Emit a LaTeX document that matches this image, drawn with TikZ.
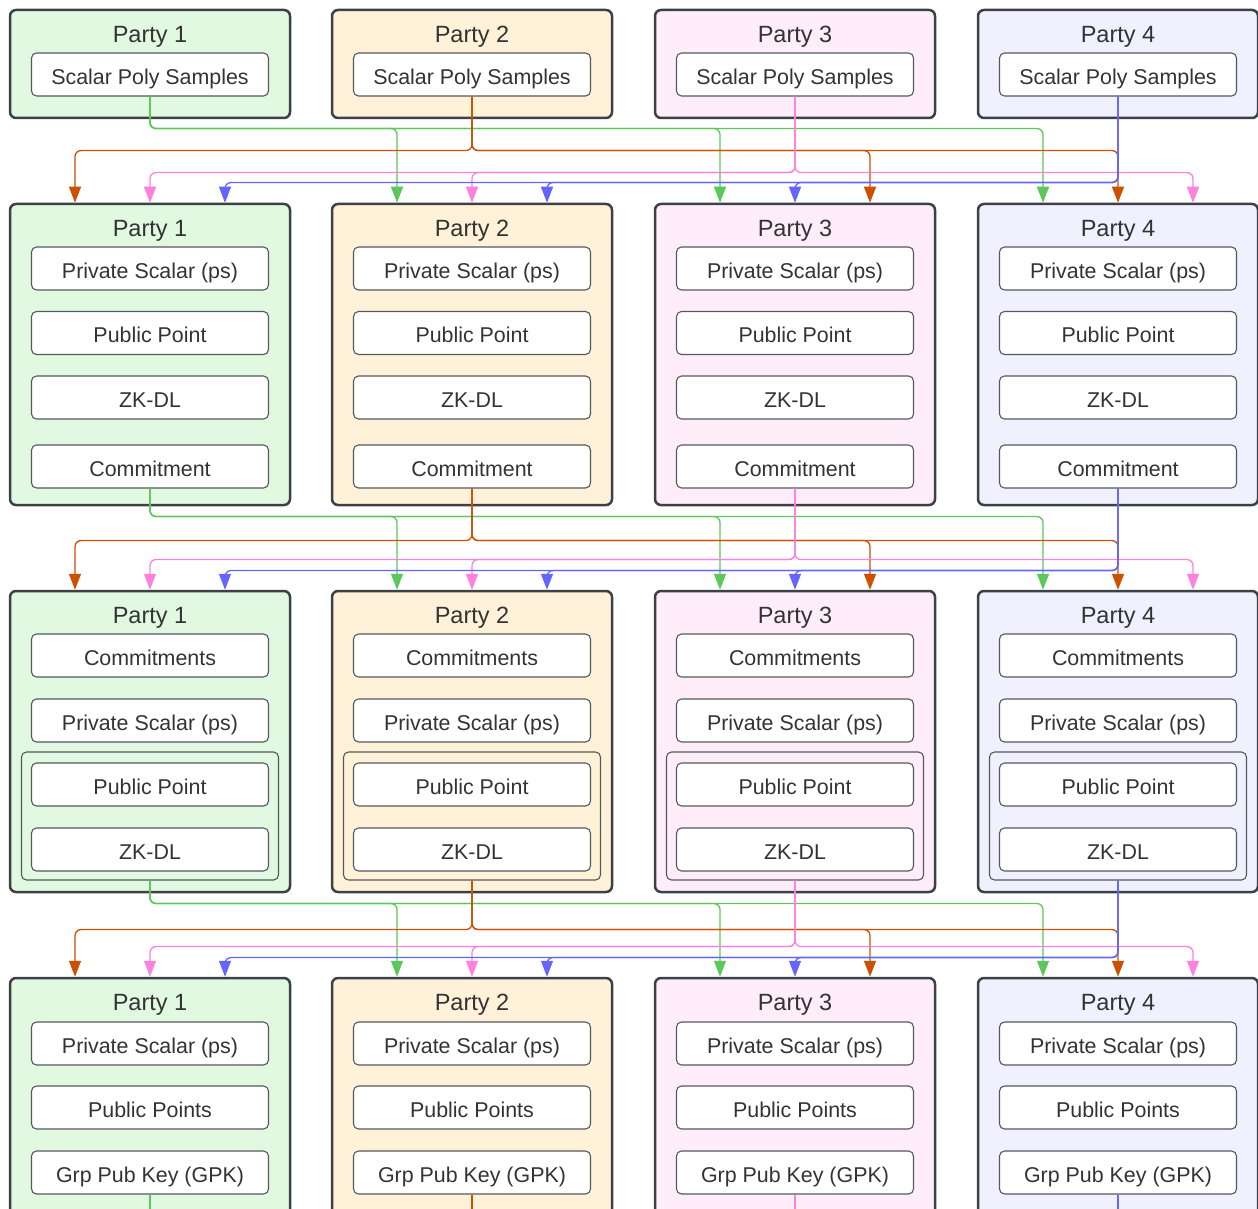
\documentclass[tikz,border=0pt]{standalone}
\usepackage{fontspec}
\setmainfont{Liberation Sans}
\usetikzlibrary{arrows.meta}

\definecolor{grnfill}{HTML}{E1F8E1}
\definecolor{orgfill}{HTML}{FFF2D8}
\definecolor{pnkfill}{HTML}{FFEEFA}
\definecolor{blufill}{HTML}{F0F0FE}
\definecolor{boxline}{HTML}{3C4047}
\definecolor{itemline}{HTML}{55585E}
\definecolor{txt}{HTML}{333333}
\definecolor{grnline}{HTML}{5CC85C}
\definecolor{orgline}{HTML}{CC5000}
\definecolor{pnkline}{HTML}{FF80DD}
\definecolor{bluline}{HTML}{6464FF}

\begin{document}
\begin{tikzpicture}[x=1pt, y=-1pt,
  party/.style={draw=boxline, line width=2.5pt, rounded corners=6pt, minimum width=280pt, inner sep=0pt},
  title/.style={text=txt, inner sep=0pt, text height=16.8pt, text depth=0pt, font=\fontsize{23.5}{28}\selectfont},
  item/.style={draw=itemline, fill=white, line width=1.1pt, rounded corners=5pt, minimum width=237pt, minimum height=43pt, inner sep=0pt, text height=19.3pt, text depth=0pt, text=txt, font=\fontsize{21.4}{26}\selectfont},
  grp/.style={draw=itemline, line width=1.1pt, rounded corners=5pt, minimum width=257pt, minimum height=128pt, inner sep=0pt},
  wire/.style={line width=1.3pt, rounded corners=6pt, -{Triangle[width=12pt,length=16pt]}},
  tail/.style={line width=1.3pt}]

\useasboundingbox (0,0) rectangle (1258,1209);
\clip (0,0) rectangle (1258,1209);
\coordinate (edge) at (0,1215);

% ROW 1
\foreach \p/\cx/\fc in {1/150/grnfill,2/472/orgfill,3/795/pnkfill,4/1118/blufill}{
  \node[party, fill=\fc, minimum height=108pt] (r1p\p) at (\cx,64) {};
  \node[title] (r1t\p) at (\cx,34) {Party \p};
  \node[item] (r1samp\p) at (\cx,74.5) {Scalar Poly Samples};
}

% ROW 2
\foreach \p/\cx/\fc in {1/150/grnfill,2/472/orgfill,3/795/pnkfill,4/1118/blufill}{
  \node[party, fill=\fc, minimum height=301pt] (r2p\p) at (\cx,354.5) {};
  \node[title] (r2t\p) at (\cx,228) {Party \p};
  \node[item] (r2ps\p) at (\cx,268.5) {Private Scalar (ps)};
  \node[item] (r2pub\p) at (\cx,333) {Public Point};
  \node[item] (r2zk\p) at (\cx,397.5) {ZK-DL};
  \node[item] (r2comm\p) at (\cx,466.5) {Commitment};
}

% ROW 3
\foreach \p/\cx/\fc in {1/150/grnfill,2/472/orgfill,3/795/pnkfill,4/1118/blufill}{
  \node[party, fill=\fc, minimum height=301pt] (r3p\p) at (\cx,741.5) {};
  \node[title] (r3t\p) at (\cx,615) {Party \p};
  \node[item] (r3comms\p) at (\cx,655.5) {Commitments};
  \node[item] (r3ps\p) at (\cx,720.5) {Private Scalar (ps)};
  \node[grp] (r3grp\p) at (\cx,816) {};
  \node[item] (r3pub\p) at (\cx,784.5) {Public Point};
  \node[item] (r3zk\p) at (\cx,849.5) {ZK-DL};
}

% ROW 4
\foreach \p/\cx/\fc/\lc in {1/150/grnfill/grnline,2/472/orgfill/orgline,3/795/pnkfill/pnkline,4/1118/blufill/bluline}{
  \node[party, fill=\fc, minimum height=300pt] (r4p\p) at (\cx,1128) {};
  \node[title] (r4t\p) at (\cx,1002) {Party \p};
  \node[item] (r4ps\p) at (\cx,1043.5) {Private Scalar (ps)};
  \node[item] (r4pub\p) at (\cx,1107.5) {Public Points};
  \node[item] (r4gpk\p) at (\cx,1172.5) {Grp Pub Key (GPK)};
  \draw[tail, \lc] (r4gpk\p.south) -- (r4gpk\p.south |- edge);
}

% BROADCASTS between rows
\foreach \ri/\ro/\src/\dg/\dor/\dp/\db in {1/2/samp/32/54/76/86, 2/3/comm/28/52/71/82, 3/4/grp/23/49/66/77}{
  % party 1 (green)
  \draw[wire, grnline] (r\ri\src1.south) -- ++(0,\dg) -| ([xshift=-75pt]r\ro p2.north);
  \draw[wire, grnline] (r\ri\src1.south) -- ++(0,\dg) -| ([xshift=-75pt]r\ro p3.north);
  \draw[wire, grnline] (r\ri\src1.south) -- ++(0,\dg) -| ([xshift=-75pt]r\ro p4.north);
  % party 2 (orange)
  \draw[wire, orgline] (r\ri\src2.south) -- ++(0,\dor) -| ([xshift=-75pt]r\ro p1.north);
  \draw[wire, orgline] (r\ri\src2.south) -- ++(0,\dor) -| ([xshift=75pt]r\ro p3.north);
  \draw[wire, orgline] (r\ri\src2.south) -- ++(0,\dor) -| (r\ro p4.north);
  % party 3 (pink)
  \draw[wire, pnkline] (r\ri\src3.south) -- ++(0,\dp) -| (r\ro p1.north);
  \draw[wire, pnkline] (r\ri\src3.south) -- ++(0,\dp) -| (r\ro p2.north);
  \draw[wire, pnkline] (r\ri\src3.south) -- ++(0,\dp) -| ([xshift=75pt]r\ro p4.north);
  % party 4 (blue)
  \draw[wire, bluline] (r\ri\src4.south) -- ++(0,\db) -| ([xshift=75pt]r\ro p1.north);
  \draw[wire, bluline] (r\ri\src4.south) -- ++(0,\db) -| ([xshift=75pt]r\ro p2.north);
  \draw[wire, bluline] (r\ri\src4.south) -- ++(0,\db) -| (r\ro p3.north);
}

\end{tikzpicture}
\end{document}
